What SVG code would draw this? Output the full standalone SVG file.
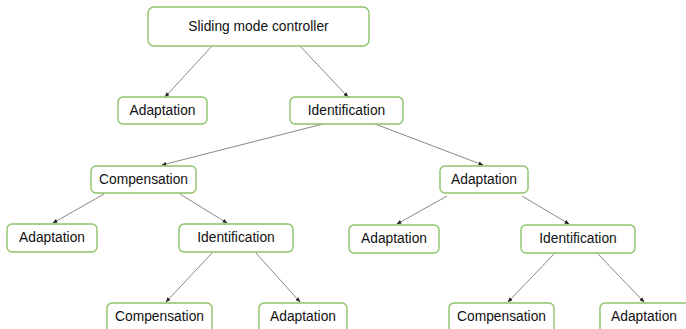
<svg xmlns="http://www.w3.org/2000/svg" width="686" height="329" viewBox="0 0 686 329">
  <defs>
    <marker id="arrow" viewBox="0 0 10 10" refX="9" refY="5" markerWidth="5" markerHeight="5" orient="auto" markerUnits="userSpaceOnUse">
      <path d="M0,1 L10,5 L0,9 z" fill="#222"/>
    </marker>
    <style>
      .box { fill: #ffffff; stroke: #8cc26a; stroke-width: 1.4; }
      .lbl { font-family: "Liberation Sans", Arial, sans-serif; font-size: 13.8px; fill: #111; text-anchor: middle; }
      .edge { stroke: #7a7a7a; stroke-width: 0.9; fill: none; marker-end: url(#arrow); }
    </style>
  </defs>
  <rect width="686" height="329" fill="#ffffff"/>

  <g id="connectors">
    <line class="edge" x1="212" y1="46" x2="165" y2="97"/>
    <line class="edge" x1="300" y1="46" x2="348" y2="97"/>
    <line class="edge" x1="323" y1="124" x2="162" y2="165"/>
    <line class="edge" x1="375" y1="124" x2="483" y2="165"/>
    <line class="edge" x1="104" y1="194" x2="53" y2="223"/>
    <line class="edge" x1="180" y1="194" x2="227" y2="223"/>
    <line class="edge" x1="212" y1="253" x2="166" y2="302"/>
    <line class="edge" x1="256" y1="253" x2="300" y2="302"/>
    <line class="edge" x1="447" y1="196" x2="397" y2="224"/>
    <line class="edge" x1="522" y1="196" x2="569" y2="224"/>
    <line class="edge" x1="554" y1="254" x2="508" y2="302"/>
    <line class="edge" x1="598" y1="254" x2="644" y2="302"/>
  </g>

  <g id="n-smc">
    <rect class="box" x="148" y="7" width="221" height="39" rx="6"/>
    <text class="lbl" x="258.5" y="30.5">Sliding mode controller</text>
  </g>
  <g id="n-adapt-1">
    <rect class="box" x="118" y="97" width="89" height="27" rx="5"/>
    <text class="lbl" x="162.5" y="114.5">Adaptation</text>
  </g>
  <g id="n-ident-1">
    <rect class="box" x="290" y="97" width="113" height="27" rx="5"/>
    <text class="lbl" x="346.5" y="114.5">Identification</text>
  </g>
  <g id="n-comp-2">
    <rect class="box" x="91" y="166" width="105" height="27" rx="5"/>
    <text class="lbl" x="143.5" y="183.5">Compensation</text>
  </g>
  <g id="n-adapt-2">
    <rect class="box" x="440" y="166" width="88" height="27" rx="5"/>
    <text class="lbl" x="484" y="183.5">Adaptation</text>
  </g>
  <g id="n-adapt-3a">
    <rect class="box" x="7" y="224" width="90" height="28" rx="5"/>
    <text class="lbl" x="52" y="242">Adaptation</text>
  </g>
  <g id="n-ident-3a">
    <rect class="box" x="179" y="224" width="114" height="28" rx="5"/>
    <text class="lbl" x="236" y="242">Identification</text>
  </g>
  <g id="n-adapt-3b">
    <rect class="box" x="349" y="225" width="90" height="28" rx="5"/>
    <text class="lbl" x="394" y="243">Adaptation</text>
  </g>
  <g id="n-ident-3b">
    <rect class="box" x="521" y="225" width="114" height="28" rx="5"/>
    <text class="lbl" x="578" y="243">Identification</text>
  </g>
  <g id="n-comp-4a">
    <rect class="box" x="107" y="303" width="105" height="34" rx="5"/>
    <text class="lbl" x="159.5" y="321">Compensation</text>
  </g>
  <g id="n-adapt-4a">
    <rect class="box" x="259" y="303" width="88" height="34" rx="5"/>
    <text class="lbl" x="303" y="321">Adaptation</text>
  </g>
  <g id="n-comp-4b">
    <rect class="box" x="449" y="303" width="105" height="34" rx="5"/>
    <text class="lbl" x="501.5" y="321">Compensation</text>
  </g>
  <g id="n-adapt-4b">
    <rect class="box" x="600" y="303" width="90" height="34" rx="5"/>
    <text class="lbl" x="644" y="321">Adaptation</text>
  </g>
</svg>
